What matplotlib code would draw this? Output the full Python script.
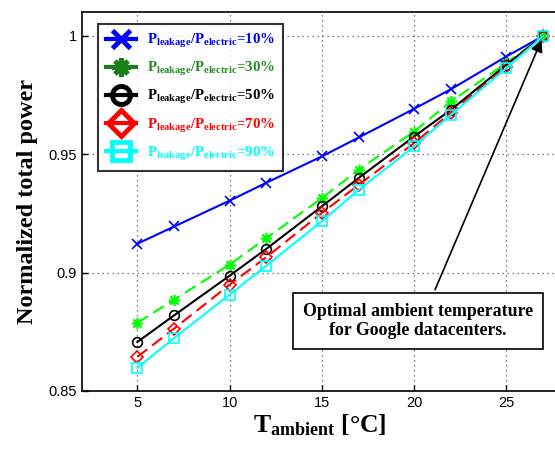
import matplotlib
matplotlib.use("Agg")
import matplotlib.pyplot as plt
from matplotlib.lines import Line2D

# ---- data ----
temps = [5, 7, 10, 12, 15, 17, 20, 22, 25, 27]
p10 = [0.9122, 0.9195, 0.9304, 0.9380, 0.9491, 0.9571, 0.9692, 0.9775, 0.9913, 1.0]
p30 = [0.8788, 0.8886, 0.9034, 0.9146, 0.9315, 0.9435, 0.9596, 0.9723, 0.9885, 1.0]
p50 = [0.8707, 0.8820, 0.8987, 0.9101, 0.9280, 0.9400, 0.9575, 0.9688, 0.9878, 1.0]
p70 = [0.8644, 0.8764, 0.8949, 0.9066, 0.9252, 0.9371, 0.9547, 0.9676, 0.9870, 1.0]
p90 = [0.8598, 0.8724, 0.8907, 0.9030, 0.9217, 0.9350, 0.9533, 0.9667, 0.9864, 1.0]
ratios = ["10%", "30%", "50%", "70%", "90%"]
xticks = [5, 10, 15, 20, 25]
yticks = [0.85, 0.9, 0.95, 1.0]

plt.rcParams["mathtext.fontset"] = "custom"
plt.rcParams["mathtext.rm"] = "Liberation Serif:bold"
plt.rcParams["mathtext.bf"] = "Liberation Serif:bold"
plt.rcParams["mathtext.it"] = "Liberation Serif:bold"

fig = plt.figure(figsize=(5.55, 4.53), dpi=100)
ax = fig.add_axes([82/555, 62/453, 476/555, 379/453])

series = [p10, p30, p50, p70, p90]
line_cols = ["#0000ff", "#00ff00", "#000000", "#ff0000", "#00ffff"]
text_cols = ["#0000ff", "#1f8f1f", "#000000", "#ff0000", "#00ffff"]
leg_marker_cols = ["#0000ff", "#1a7f1a", "#000000", "#ff0000", "#00ffff"]
styles = ["-", "--", "-", "--", "-"]
markers = ["x", (8, 2, 0), "o", "D", "s"]
msizes = [7, 8, 7, 6, 7]

for ys, c, ls, m, ms in zip(series, line_cols, styles, markers, msizes):
    ax.plot(temps, ys, color=c, linestyle=ls, linewidth=1.5, marker=m,
            markersize=ms, markerfacecolor="none", markeredgecolor=c,
            markeredgewidth=1.2, dashes=(6, 3) if ls == "--" else (None, None))

ax.set_xlim(2, 27.8)
ax.set_ylim(0.85, 1.0101)
ax.set_xticks(xticks)
ax.set_xticklabels([str(t) for t in xticks])
ax.set_yticks(yticks)
ax.set_yticklabels(["0.85", "0.9", "0.95", "1"])
ax.tick_params(direction="in", length=4, labelsize=10.5, width=1)
for lab in ax.get_xticklabels() + ax.get_yticklabels():
    lab.set_fontfamily("Liberation Sans")
ax.grid(True, linestyle=(0, (1, 3)), color="#555555", linewidth=0.9)
for sp in ax.spines.values():
    sp.set_linewidth(1.2)

ax.set_ylabel("Normalized total power", fontfamily="Liberation Serif",
              fontweight="bold", fontsize=17.5, labelpad=8)
ax.set_xlabel(r"$\mathrm{T_{ambient}}$ [°C]", fontfamily="Liberation Serif",
              fontweight="bold", fontsize=18.5, labelpad=2)

# legend with big markers
handles = []
for c, m in zip(leg_marker_cols, markers):
    handles.append(Line2D([0], [0], color=c, linewidth=3, marker=m,
                          markersize=13, markerfacecolor="none",
                          markeredgecolor=c, markeredgewidth=3.5))
labels = [r"$\mathrm{P_{leakage}/P_{electric}}$=" + r for r in ratios]
leg = ax.legend(handles, labels, loc="upper left", bbox_to_anchor=(0.028, 0.976),
                prop={"family": "Liberation Serif", "weight": "bold", "size": 10.7},
                frameon=True, fancybox=False, edgecolor="black", handlelength=2.0,
                labelspacing=0.68, borderpad=0.55, handletextpad=0.7,
                borderaxespad=0.2)
leg.get_frame().set_linewidth(1.5)
for txt, c in zip(leg.get_texts(), text_cols):
    txt.set_color(c)

ax.annotate("Optimal ambient temperature\nfor Google datacenters.",
            xy=(27, 1.0), xycoords="data",
            xytext=(418/555, (453-321)/453), textcoords="figure fraction",
            ha="center", va="center", fontfamily="Liberation Serif",
            fontweight="bold", fontsize=12.8, linespacing=1.2,
            bbox=dict(boxstyle="square,pad=0.55", facecolor="white",
                      edgecolor="black", linewidth=1.2),
            arrowprops=dict(arrowstyle="-|>", color="black", linewidth=1.2,
                            mutation_scale=18, relpos=(0.55, 1.0), shrinkB=3))

fig.savefig("out.png", dpi=100)
